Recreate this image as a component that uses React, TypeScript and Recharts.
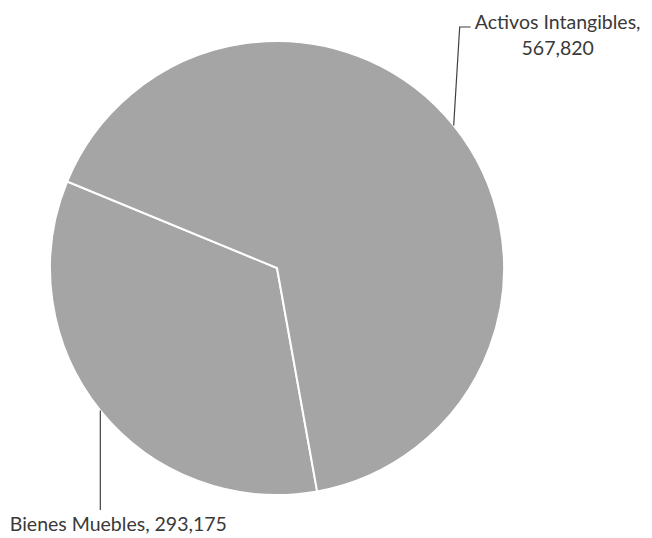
import React from 'react';
import { PieChart, Pie, Cell } from 'recharts';

const categories = ['Bienes Muebles', 'Activos Intangibles'];
const values = [293175, 567820];

const data = categories.map((name, i) => ({ name, value: values[i] }));

const RAD = Math.PI / 180;
const fmt = (v: number) => v.toLocaleString('en-US');

const renderLabel = (props: any) => {
  const { cx, cy, midAngle, outerRadius, index } = props;
  const sx = cx + outerRadius * Math.cos(-midAngle * RAD);
  const sy = cy + outerRadius * Math.sin(-midAngle * RAD);
  const up = sy < cy;
  const font = { fontFamily: 'Lato, "Open Sans", sans-serif', fontSize: 19.5, fill: '#3a3a3a' };
  if (up) {
    const ex = sx + 6;
    const ey = cy - outerRadius - 14;
    const hx = ex + 11;
    return (
      <g key={`l${index}`}>
        <polyline points={`${sx},${sy} ${ex},${ey} ${hx},${ey}`} fill="none" stroke="#404040" strokeWidth={1.2} />
        <text x={hx + 87} y={ey} textAnchor="middle" dominantBaseline="central" {...font}>
          <tspan x={hx + 87} dy={-6}>{`${data[index].name},`}</tspan>
          <tspan x={hx + 87} dy={26}>{fmt(data[index].value)}</tspan>
        </text>
      </g>
    );
  }
  const ey = cy + outerRadius + 15;
  return (
    <g key={`l${index}`}>
      <polyline points={`${sx},${sy} ${sx},${ey}`} fill="none" stroke="#404040" strokeWidth={1.2} />
      <text x={sx + 18} y={ey + 13} textAnchor="middle" dominantBaseline="central" {...font}>
        {`${data[index].name}, ${fmt(data[index].value)}`}
      </text>
    </g>
  );
};

export default function App() {
  return (
    <div style={{ position: 'absolute', left: 0, top: 0, width: 652, height: 538, background: '#fff' }}>
      <PieChart width={652} height={538} margin={{ top: 0, right: 0, bottom: 0, left: 0 }}>
        <Pie
          data={data}
          dataKey="value"
          nameKey="name"
          cx={277}
          cy={268}
          outerRadius={227}
          startAngle={157.6}
          endAngle={517.6}
          stroke="#ffffff"
          strokeWidth={2}
          label={renderLabel}
          labelLine={false}
          isAnimationActive={false}
        >
          {data.map((d) => (
            <Cell key={d.name} fill="#a5a5a5" />
          ))}
        </Pie>
      </PieChart>
    </div>
  );
}
